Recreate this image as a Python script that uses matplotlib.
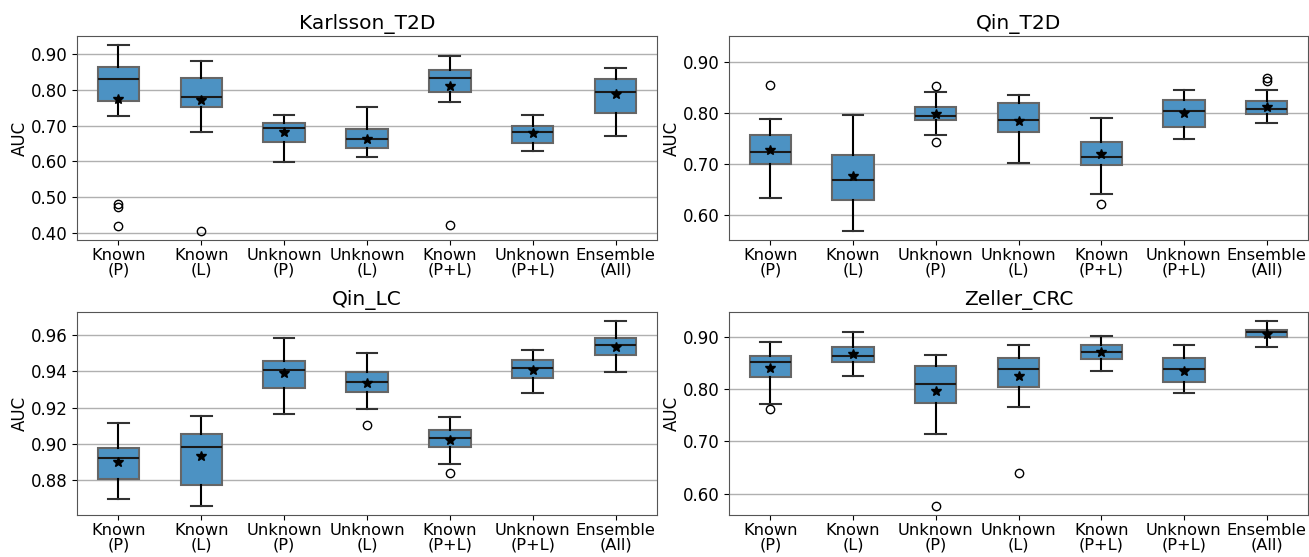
import matplotlib
matplotlib.use("Agg")
import matplotlib.pyplot as plt

LABELS = ["Known\n(P)", "Known\n(L)", "Unknown\n(P)", "Unknown\n(L)",
          "Known\n(P+L)", "Unknown\n(P+L)", "Ensemble\n(All)"]

# per dataset: lower whisker, Q1, median, Q3, upper whisker, mean, outliers
karlsson_lo = [0.728, 0.681, 0.599, 0.613, 0.766, 0.628, 0.671]
karlsson_q1 = [0.770, 0.751, 0.655, 0.638, 0.794, 0.652, 0.736]
karlsson_med = [0.831, 0.780, 0.694, 0.663, 0.834, 0.681, 0.795]
karlsson_q3 = [0.864, 0.834, 0.707, 0.691, 0.854, 0.700, 0.830]
karlsson_hi = [0.924, 0.880, 0.729, 0.752, 0.894, 0.729, 0.862]
karlsson_mean = [0.774, 0.771, 0.682, 0.664, 0.810, 0.679, 0.788]
karlsson_fl = [[0.482, 0.473, 0.420], [0.405], [], [], [0.424], [], []]

qint2d_lo = [0.634, 0.569, 0.756, 0.703, 0.641, 0.750, 0.781]
qint2d_q1 = [0.701, 0.631, 0.787, 0.762, 0.699, 0.773, 0.798]
qint2d_med = [0.724, 0.670, 0.793, 0.786, 0.713, 0.804, 0.808]
qint2d_q3 = [0.756, 0.718, 0.812, 0.819, 0.743, 0.825, 0.824]
qint2d_hi = [0.788, 0.796, 0.841, 0.835, 0.790, 0.844, 0.844]
qint2d_mean = [0.727, 0.676, 0.798, 0.784, 0.720, 0.799, 0.812]
qint2d_fl = [[0.855], [], [0.852, 0.743], [], [0.622], [], [0.868, 0.863]]

qinlc_lo = [0.8695, 0.8657, 0.9167, 0.9191, 0.8890, 0.9283, 0.9398]
qinlc_q1 = [0.8807, 0.8772, 0.9310, 0.9286, 0.8980, 0.9363, 0.9490]
qinlc_med = [0.8919, 0.8983, 0.9407, 0.9341, 0.9029, 0.9417, 0.9547]
qinlc_q3 = [0.8976, 0.9053, 0.9457, 0.9398, 0.9075, 0.9464, 0.9583]
qinlc_hi = [0.9112, 0.9152, 0.9585, 0.9499, 0.9145, 0.9516, 0.9677]
qinlc_mean = [0.8901, 0.8932, 0.9389, 0.9338, 0.9018, 0.9409, 0.9536]
qinlc_fl = [[], [], [], [0.9106], [0.8837], [], []]

zeller_lo = [0.772, 0.825, 0.713, 0.766, 0.835, 0.793, 0.880]
zeller_q1 = [0.823, 0.851, 0.773, 0.804, 0.858, 0.814, 0.899]
zeller_med = [0.852, 0.863, 0.810, 0.838, 0.870, 0.838, 0.908]
zeller_q3 = [0.862, 0.880, 0.844, 0.859, 0.884, 0.860, 0.913]
zeller_hi = [0.889, 0.908, 0.864, 0.883, 0.902, 0.883, 0.930]
zeller_mean = [0.840, 0.866, 0.796, 0.825, 0.871, 0.835, 0.905]
zeller_fl = [[0.762], [], [0.577], [0.640], [], [], []]

panels = [
    ("Karlsson_T2D", karlsson_lo, karlsson_q1, karlsson_med, karlsson_q3, karlsson_hi, karlsson_mean, karlsson_fl,
     (0.381, 0.950), [0.40, 0.50, 0.60, 0.70, 0.80, 0.90]),
    ("Qin_T2D", qint2d_lo, qint2d_q1, qint2d_med, qint2d_q3, qint2d_hi, qint2d_mean, qint2d_fl,
     (0.552, 0.950), [0.60, 0.70, 0.80, 0.90]),
    ("Qin_LC", qinlc_lo, qinlc_q1, qinlc_med, qinlc_q3, qinlc_hi, qinlc_mean, qinlc_fl,
     (0.8606, 0.9728), [0.88, 0.90, 0.92, 0.94, 0.96]),
    ("Zeller_CRC", zeller_lo, zeller_q1, zeller_med, zeller_q3, zeller_hi, zeller_mean, zeller_fl,
     (0.559, 0.947), [0.60, 0.70, 0.80, 0.90]),
]

W, H = 1309, 557
fig = plt.figure(figsize=(W / 100, H / 100), dpi=100)
# axes rectangles in pixels: left, right, top, bottom
rects = [(77, 657, 36, 240), (729, 1308, 36, 240),
         (77, 657, 312, 515), (729, 1308, 312, 515)]

BOX = "#4c92c3"; EDGE = "#666666"; SPINE = "#555555"

for (title, lo, q1, med, q3, hi, mean, fl, ylim, yt), (l, r, t, b) in zip(panels, rects):
    ax = fig.add_axes([l / W, 1 - b / H, (r - l) / W, (b - t) / H])
    stats = [dict(whislo=lo[i], q1=q1[i], med=med[i], q3=q3[i], whishi=hi[i],
                  mean=mean[i], fliers=fl[i]) for i in range(len(LABELS))]
    ax.bxp(stats, widths=0.5, showmeans=True, patch_artist=True,
           boxprops=dict(facecolor=BOX, edgecolor=EDGE, linewidth=1.5),
           medianprops=dict(color="#1a1a1a", linewidth=1.5),
           whiskerprops=dict(color="black", linewidth=1.5),
           capprops=dict(color="#333333", linewidth=1.5),
           meanprops=dict(marker="*", markerfacecolor="black", markeredgecolor="black", markersize=7),
           flierprops=dict(marker="o", markerfacecolor="none", markeredgecolor="black", markersize=6))
    ax.set_xticks(range(1, len(LABELS) + 1))
    ax.set_xticklabels(LABELS, fontsize=11.7, linespacing=0.95)
    ax.tick_params(axis="x", pad=2.5)
    ax.set_xlim(0.5, len(LABELS) + 0.5)
    ax.set_ylim(*ylim)
    ax.set_yticks(yt)
    ax.set_yticklabels(["{:.2f}".format(v) for v in yt], fontsize=12)
    ax.set_ylabel("AUC", fontsize=12, labelpad=1)
    ax.set_title(title, fontsize=14.5, pad=5)
    ax.yaxis.grid(True, color="#b0b0b0", linewidth=1.0)
    ax.set_axisbelow(True)
    for s in ax.spines.values():
        s.set_color(SPINE)

fig.savefig("out.png", dpi=100)
